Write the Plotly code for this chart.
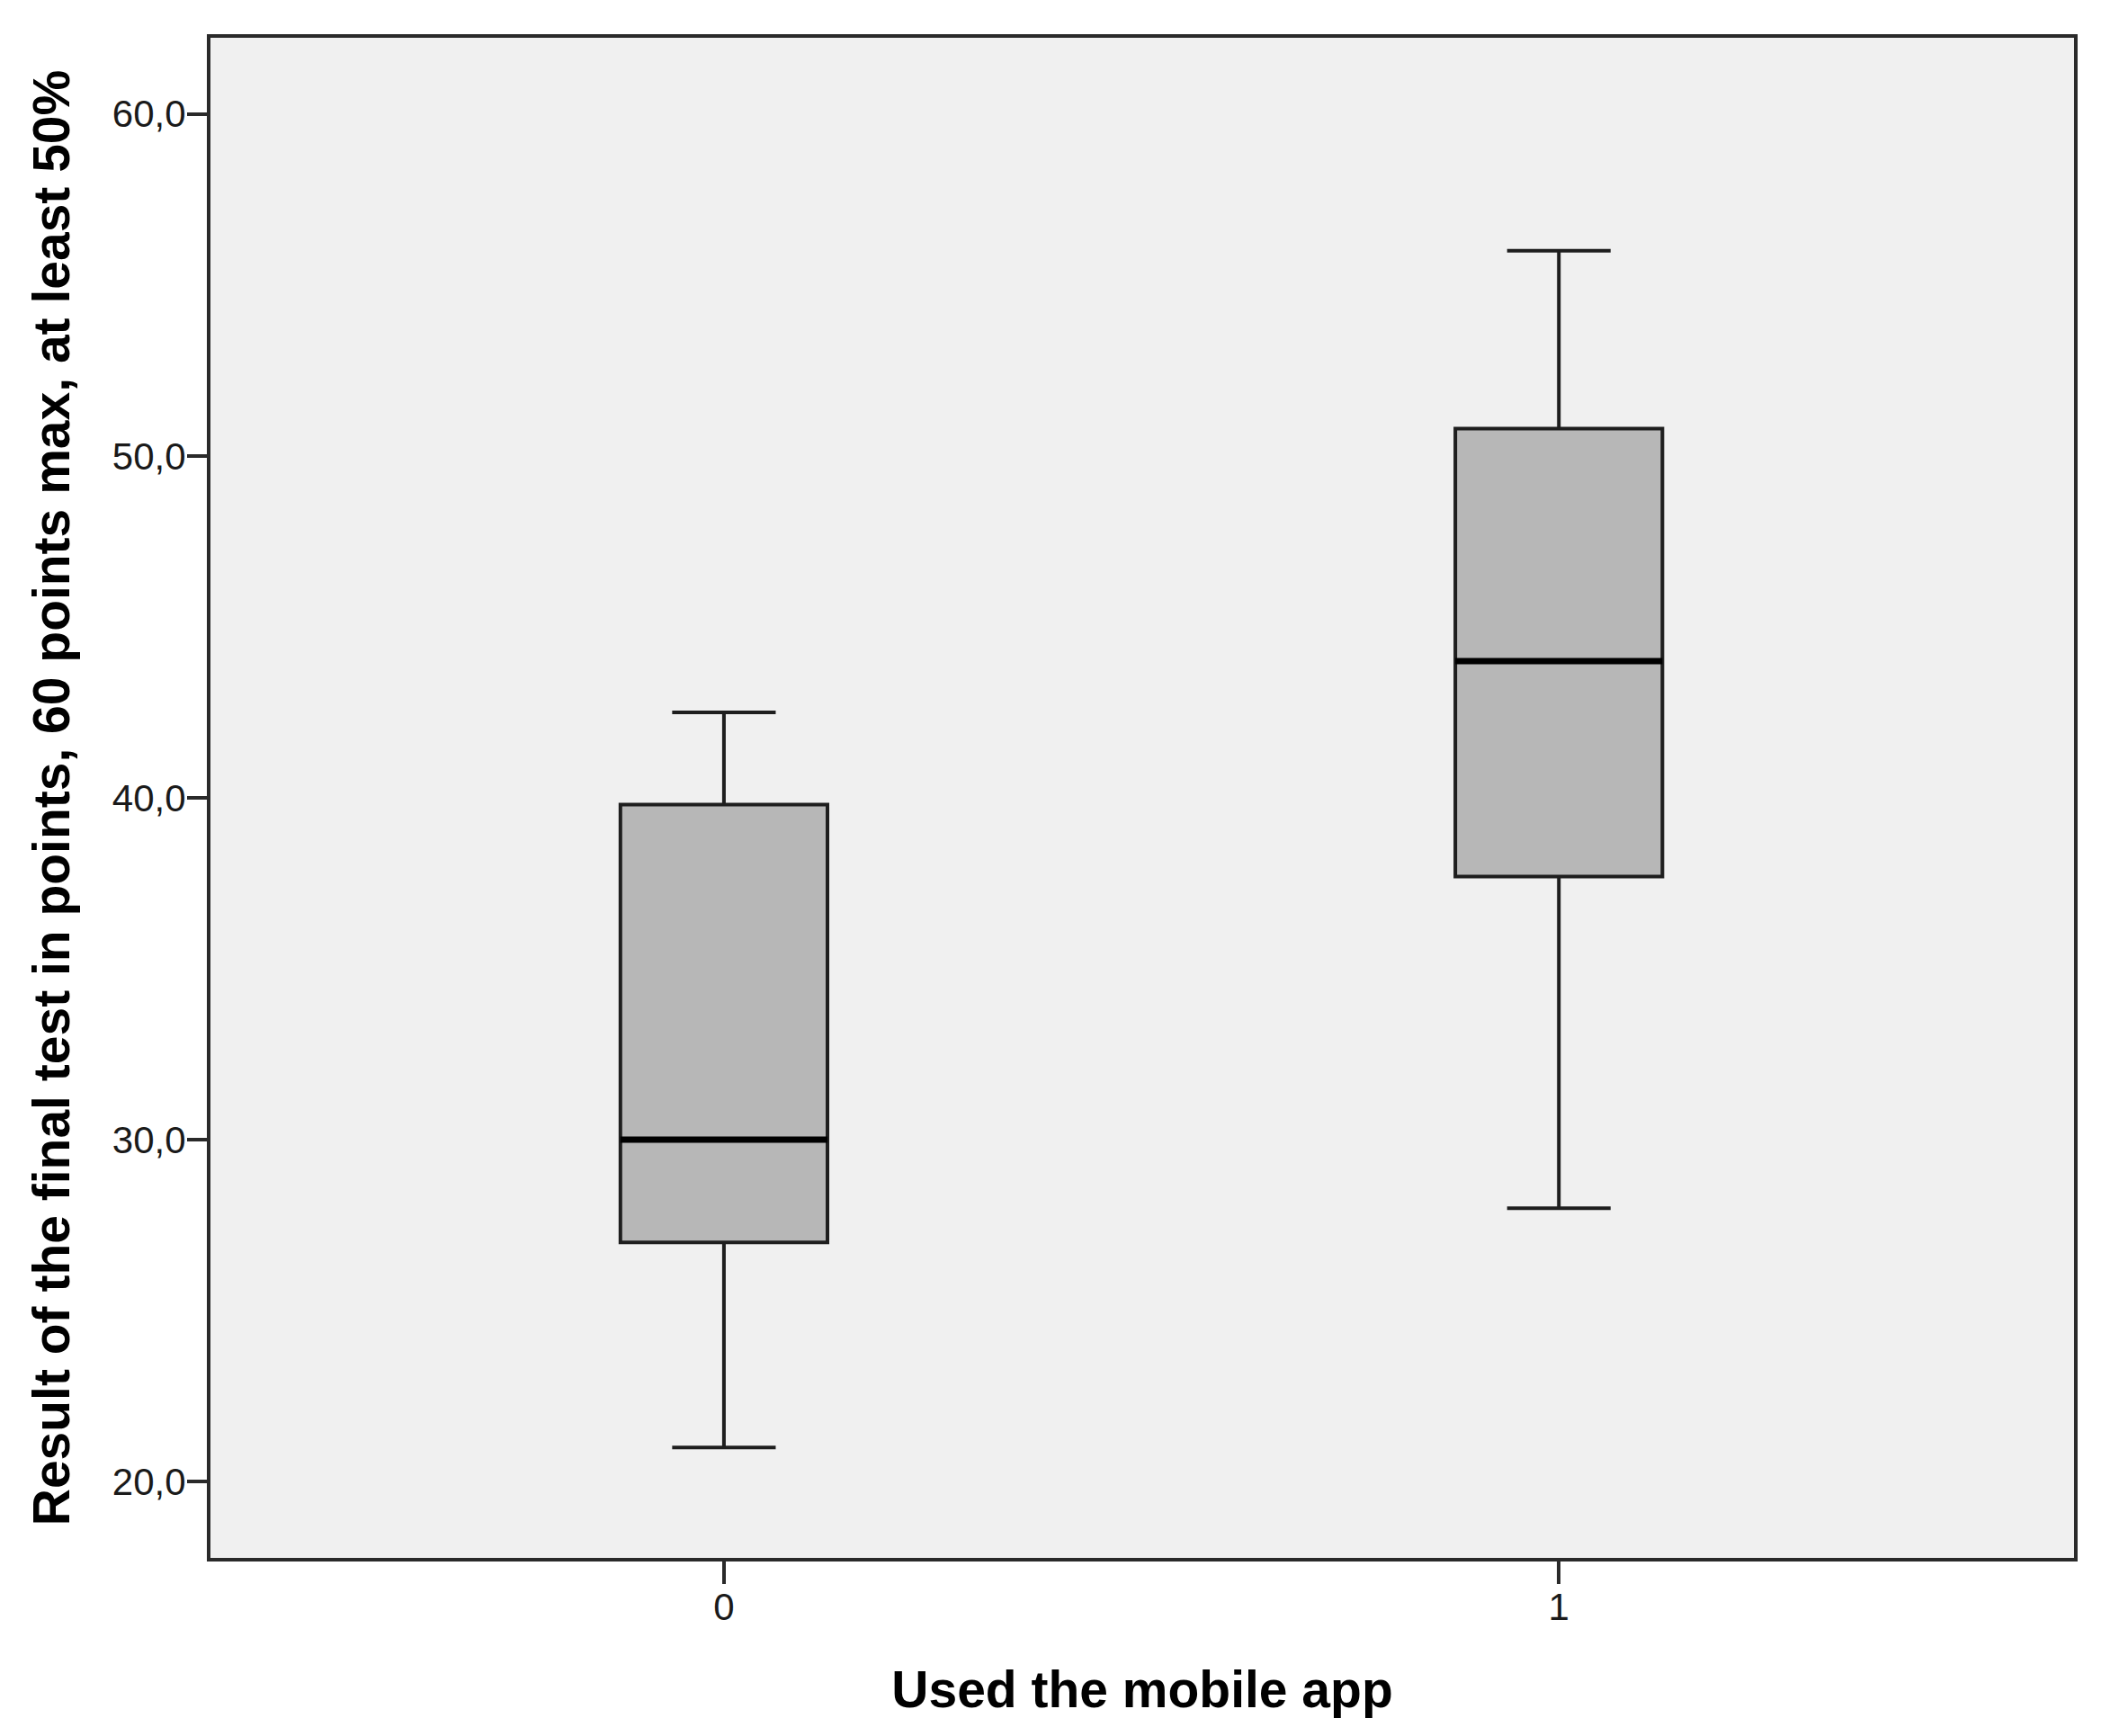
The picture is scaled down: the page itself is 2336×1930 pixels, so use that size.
import plotly.graph_objects as go

groups = ["0", "1"]
lower_whisker = [21.0, 28.0]
q1 = [27.0, 37.7]
median = [30.0, 44.0]
q3 = [39.8, 50.8]
upper_whisker = [42.5, 56.0]

y_ticks = [20, 30, 40, 50, 60]

x_title = "Used the mobile app"
y_title = "Result of the final test in points, 60 points max, at least 50%"

box_width = 0.248
frame_color = "#2a2a2a"
title_font = dict(size=57, family="Liberation Sans, Arial, sans-serif", color="#000000", weight="bold")

fig = go.Figure()

# the boxes with whiskers
fig.add_trace(go.Box(
    x=groups,
    q1=q1,
    median=median,
    q3=q3,
    lowerfence=lower_whisker,
    upperfence=upper_whisker,
    width=box_width,
    whiskerwidth=0.5,
    fillcolor="#b7b7b7",
    line=dict(color="#1e1e1e", width=4),
    boxpoints=False,
    hoverinfo="skip",
    showlegend=False,
))

# thicker median line on top (degenerate box at the median)
fig.add_trace(go.Box(
    x=groups,
    q1=median,
    median=median,
    q3=median,
    lowerfence=median,
    upperfence=median,
    width=box_width,
    whiskerwidth=0,
    fillcolor="rgba(0,0,0,0)",
    line=dict(color="#000000", width=7),
    boxpoints=False,
    hoverinfo="skip",
    showlegend=False,
))

# page body adds 8px, margins are offset for that
fig.update_layout(
    width=2336,
    height=1930,
    margin=dict(l=226, r=38, t=34, b=206),
    paper_bgcolor="white",
    plot_bgcolor="#f0f0f0",
    separators=",.",
    boxmode="overlay",
    font=dict(family="Liberation Sans, Arial, sans-serif", color="#1a1a1a"),
)

fig.update_xaxes(
    type="category",
    range=[-0.615, 1.617],
    showline=True, mirror=True, linecolor=frame_color, linewidth=4,
    ticks="outside", ticklen=25, tickwidth=4, tickcolor=frame_color,
    tickfont=dict(size=42), ticklabelstandoff=-10,
    showgrid=False, zeroline=False,
    title=dict(text=x_title, standoff=50, font=title_font),
)

fig.update_yaxes(
    range=[17.77, 62.23],
    tickvals=y_ticks,
    tickformat=".1f",
    showline=True, mirror=True, linecolor=frame_color, linewidth=4,
    ticks="outside", ticklen=22, tickwidth=4, tickcolor=frame_color,
    tickfont=dict(size=42), ticklabelstandoff=-7,
    showgrid=False, zeroline=False,
    title=dict(text=y_title, standoff=30, font=title_font),
)

fig.write_html("out.html")
